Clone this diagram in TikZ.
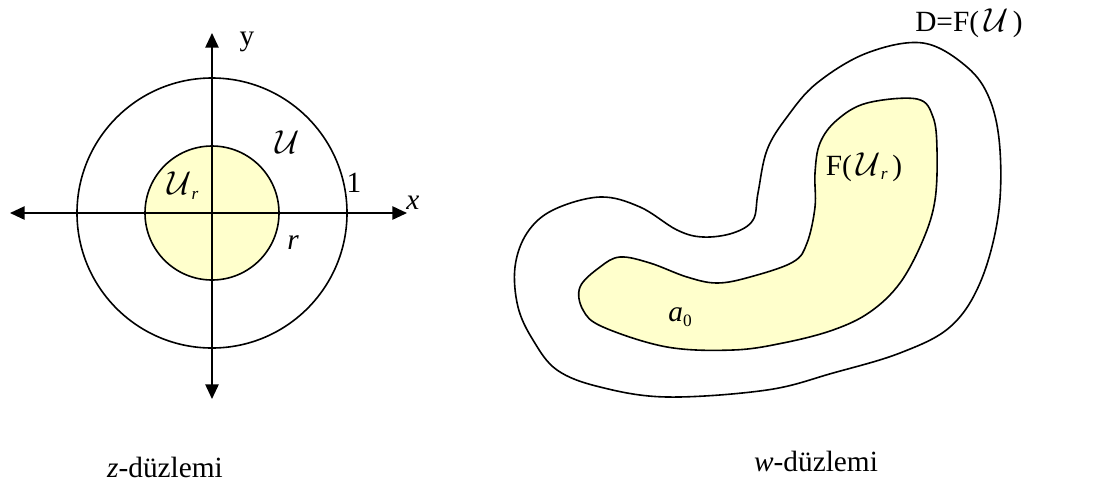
\documentclass[tikz,border=0pt]{standalone}
\usepackage{fontspec}
\setmainfont{Liberation Serif}
\usetikzlibrary{arrows.meta}
\definecolor{paleyellow}{HTML}{FFFFCC}
\newcommand{\bigU}{{\fontsize{26}{30}\selectfont$\mathcal{U}$}}
\newcommand{\subr}{\raisebox{-0.35ex}{\fontsize{13}{14}\selectfont\itshape r}}
\tikzset{
  curve/.style={line width=1.2pt, black},
  axis/.style={line width=1.2pt, {Triangle[length=11pt,width=10pt]}-{Triangle[length=11pt,width=10pt]}},
  lbl/.style={font=\fontsize{22}{26}\selectfont, inner sep=0pt},
}
\begin{document}
\begin{tikzpicture}[x=0.75pt,y=-0.75pt]
\useasboundingbox (0,0) rectangle (1106,487);
% z-plane
\coordinate (O) at (212,213);
\draw[curve] (O) circle[radius=135];
\draw[curve, fill=paleyellow] (O) circle[radius=67];
\coordinate (xl) at (10,213);
\coordinate (xr) at (407,213);
\coordinate (yt) at (212,33);
\coordinate (yb) at (212,399);
\draw[axis] (xl) -- (xr);
\draw[axis] (yb) -- (yt);
\node[lbl] (ylab) at (247,42) {y};
\node[lbl] (xlab) at (413,203) {\itshape x};
\node[lbl] (Ulab) at (288,142) {\bigU};
\node[lbl] (Urlab) at (183,186) {\bigU\subr};
\node[lbl] (onelab) at (354,183) {1};
\node[lbl] (rlab) at (293,243) {\itshape r};
\node[lbl] (zcap) at (165,467) {\textit{z}-düzlemi};
% w-plane
\draw[curve] plot[smooth cycle, tension=0.6] coordinates {
 (923,43) (967,67) (990,100) (1000,150) (998,217) (980,283) (950,327)
 (900,353) (833,373) (767,390) (667,397) (600,387) (557,370) (533,340)
 (518,307) (515,267) (527,233) (553,210) (600,197) (640,207) (677,230)
 (703,237) (733,233) (753,220) (758,193) (767,150) (787,117) (817,83)
 (867,53)};
\draw[curve, fill=paleyellow] plot[smooth cycle, tension=0.6] coordinates {
 (917,99) (933,117) (937,150) (935,200) (923,240) (900,283) (870,312)
 (833,330) (783,343) (733,350) (667,347) (603,327) (583,310) (580,287)
 (600,267) (620,257) (650,263) (687,277) (717,283) (750,277) (793,262)
 (807,243) (815,207) (815,173) (820,143) (837,120) (867,103)};
\node[lbl] (FUr) at (864,167) {F(\,\bigU\subr\,)};
\node[lbl] (a0) at (680,317) {\itshape a\raisebox{-0.35ex}{\fontsize{13}{14}\selectfont\upshape 0}};
\node[lbl] (D) at (969,23) {D=F(\,\bigU\,)};
\node[lbl] (wcap) at (816,461) {\textit{w}-düzlemi};
\end{tikzpicture}
\end{document}
